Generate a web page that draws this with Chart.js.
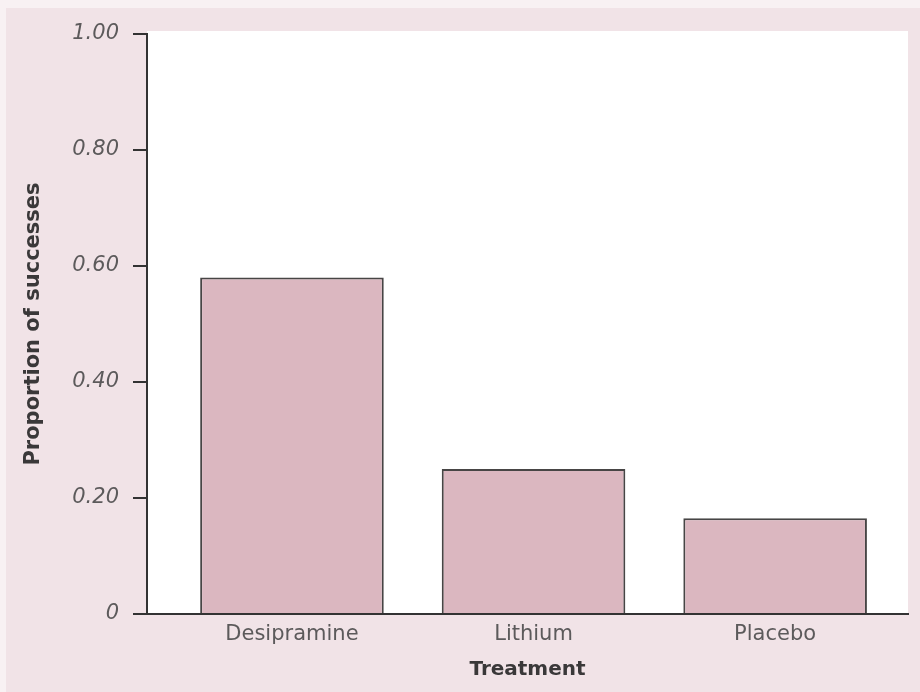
<!DOCTYPE html>
<html>
<head>
<meta charset="utf-8">
<script src="https://cdn.jsdelivr.net/npm/chart.js@4/dist/chart.umd.min.js"></script>
<style>
  html, body { margin: 0; padding: 0; background: #f8f1f3; }
  #wrap { width: 920px; height: 692px; }
</style>
</head>
<body>
<div id="wrap"><canvas id="treatChart" width="920" height="692"></canvas></div>
<script>
// 데이터
const categories = ['Desipramine', 'Lithium', 'Placebo'];
const proportions = [0.58, 0.25, 0.165];
const yTicks = [0, 0.20, 0.40, 0.60, 0.80, 1.00];

// 배경: 바깥 분홍 + 플롯 영역 흰색
const bgPlugin = {
    id: 'bgPlugin',
    beforeDraw(chart) {
        const c = chart.ctx, a = chart.chartArea;
        c.save();
        c.fillStyle = '#f1e3e7';
        c.fillRect(6, 8, chart.width - 6, chart.height - 8);
        c.fillStyle = '#ffffff';
        c.fillRect(a.left, a.top - 3, a.right - a.left, a.bottom - a.top + 3);
        c.restore();
    }
};

const ctx = document.getElementById('treatChart').getContext('2d');
new Chart(ctx, {
    type: 'bar',
    data: {
        datasets: [{
            data: categories.map((c, i) => ({ x: i, y: proportions[i] })),
            backgroundColor: '#dbb7c0',
            borderColor: '#474545',
            borderWidth: 2,
            borderSkipped: 'bottom',
            barPercentage: 0.76,
            categoryPercentage: 1.0
        }]
    },
    plugins: [bgPlugin],
    options: {
        responsive: false,
        animation: false,
        layout: { padding: { left: 10, right: 12, top: 34, bottom: 8 } },
        plugins: { legend: { display: false }, tooltip: { enabled: false } },
        scales: {
            x: {
                type: 'linear',
                offset: false,
                min: -0.6,
                max: 2.55,
                afterBuildTicks: s => { s.ticks = categories.map((c, i) => ({ value: i })); },
                afterFit: s => { s.height = 70; },
                border: { display: true, color: '#333', width: 2 },
                grid: { display: false, drawTicks: false, offset: false },
                ticks: {
                    autoSkip: false,
                    maxRotation: 0,
                    padding: 8,
                    color: '#5c5a5b',
                    font: { family: 'DejaVu Sans', size: 21 },
                    callback: v => categories[v]
                },
                title: {
                    display: true,
                    text: 'Treatment',
                    color: '#3a3839',
                    font: { family: 'DejaVu Sans', size: 20, weight: 'bold' },
                    padding: { top: 0, bottom: 2 }
                }
            },
            y: {
                min: 0,
                max: 1,
                afterBuildTicks: s => { s.ticks = yTicks.map(v => ({ value: v })); },
                afterFit: s => { s.width = 137; },
                border: { display: true, color: '#333', width: 2 },
                grid: { drawOnChartArea: false, drawTicks: true, tickLength: 14, color: '#333', lineWidth: 2 },
                ticks: {
                    padding: 14,
                    color: '#5c5a5b',
                    font: { family: 'DejaVu Sans', size: 21, style: 'italic' },
                    callback: v => v === 0 ? '0' : v.toFixed(2)
                },
                title: {
                    display: true,
                    text: 'Proportion of successes',
                    color: '#3a3839',
                    font: { family: 'DejaVu Sans', size: 21, weight: 'bold' },
                    padding: { top: 11, bottom: 0 }
                }
            }
        }
    }
});
</script>
</body>
</html>
